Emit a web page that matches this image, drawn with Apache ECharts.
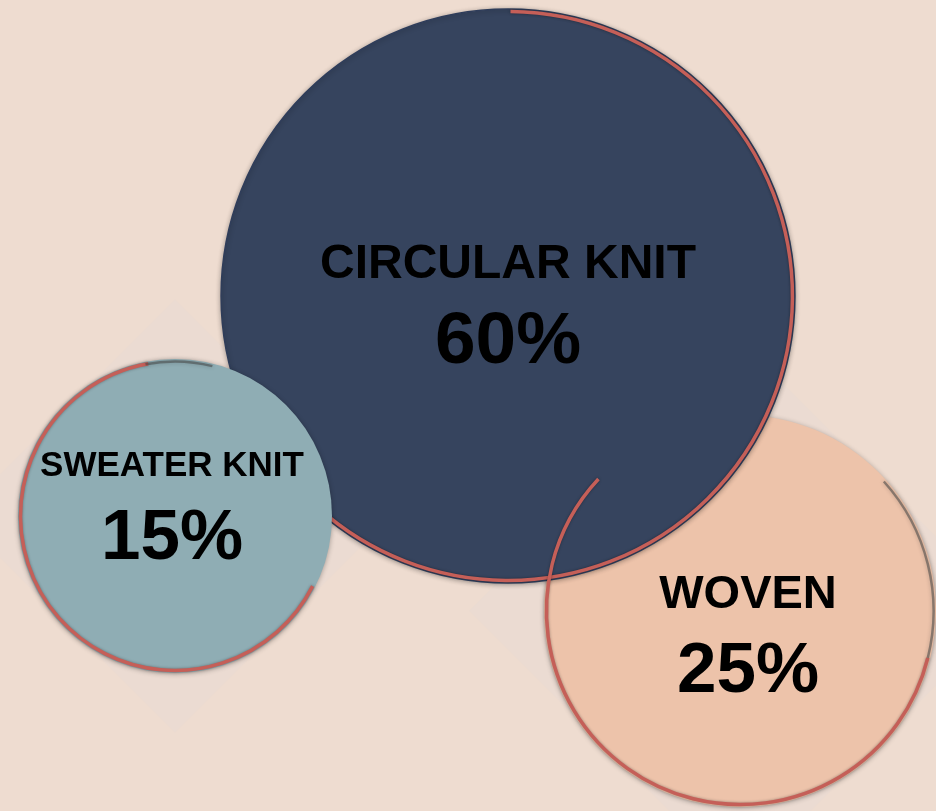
<!DOCTYPE html>
<html>
<head>
<meta charset="utf-8">
<script src="https://cdn.jsdelivr.net/npm/echarts@6/dist/echarts.min.js"></script>
<style>
html,body{margin:0;padding:0;background:#EEDCD0;}
#chart{width:936px;height:811px;}
</style>
</head>
<body>
<div id="chart"></div>
<script>
// ---- data ----
const categories = ['CIRCULAR KNIT', 'SWEATER KNIT', 'WOVEN'];
const shares = [60, 15, 25];            // percent
const bubbleX = [508, 175, 740];        // bubble chart x value
const bubbleY = [296, 516, 611];        // bubble chart y value

// ---- styling (not data) ----
const fills = ['#36445E', '#8FADB4', '#EDC3AA'];
const red = '#C55F58';
const fillZ = [2, 4, 1];
const arcZ = [3, 5, 3];
// red edge arcs (degrees, clockwise from 3 o'clock)
const arcs = [[-89.5, 132], [27, 260], [14, 223]];
const greyArcs = [null, [259, 284], [-42, 14]];
const diamonds = [false, true, true];
const labelLayout = [
  {dx: 0, nameDy: -31, pctDy: 47, nameSize: 48, pctSize: 73},
  {dx: -3, nameDy: -50, pctDy: 23, nameSize: 35, pctSize: 71},
  {dx: 8, nameDy: -16, pctDy: 61, nameSize: 47, pctSize: 71}
];
function diameter(v) { return 314 * Math.pow(v / 15, 0.435); }

const seriesData = categories.map((c, i) => [bubbleX[i], bubbleY[i], shares[i], c]);

const chart = echarts.init(document.getElementById('chart'));
const deg = Math.PI / 180;

chart.setOption({
  backgroundColor: '#EEDCD0',
  animation: false,
  grid: {left: 0, right: 0, top: 0, bottom: 0},
  xAxis: {type: 'value', min: 0, max: 936, show: false},
  yAxis: {type: 'value', min: 0, max: 811, inverse: true, show: false},
  series: [{
    type: 'custom',
    data: seriesData,
    renderItem: function (params, api) {
      const i = params.dataIndex;
      const c = api.coord([api.value(0), api.value(1)]);
      const d = api.size([diameter(api.value(2)), 0])[0];
      const r = d / 2;
      const L = labelLayout[i];
      const children = [];
      if (diamonds[i]) {
        const h = r * 1.38;
        children.push({
          type: 'polygon', z2: 0,
          shape: {points: [[c[0], c[1] - h], [c[0] + h, c[1]], [c[0], c[1] + h], [c[0] - h, c[1]]]},
          style: {fill: 'rgba(228,220,214,0.3)'}
        });
      }
      children.push({
        type: 'circle', z2: fillZ[i],
        shape: {cx: c[0], cy: c[1], r: r},
        style: {
          fill: fills[i],
          stroke: i === 0 ? '#2F3D5A' : fills[i],
          lineWidth: i === 0 ? 1.5 : 0,
          shadowBlur: 5, shadowColor: 'rgba(0,0,0,0.3)', shadowOffsetY: 1
        }
      });
      children.push({
        type: 'arc', z2: arcZ[i],
        shape: {cx: c[0], cy: c[1], r: r - 2.5, startAngle: arcs[i][0] * deg, endAngle: arcs[i][1] * deg, clockwise: true},
        style: {stroke: red, lineWidth: 3.5, fill: null, lineCap: 'butt', shadowBlur: 3, shadowColor: 'rgba(0,0,0,0.35)'}
      });
      if (greyArcs[i]) {
        children.push({
          type: 'arc', z2: arcZ[i],
          shape: {cx: c[0], cy: c[1], r: r - 2.5, startAngle: greyArcs[i][0] * deg, endAngle: greyArcs[i][1] * deg, clockwise: true},
          style: {stroke: 'rgba(70,70,70,0.55)', lineWidth: 2.5, fill: null, shadowBlur: 4, shadowColor: 'rgba(0,0,0,0.4)'}
        });
      }
      children.push({
        type: 'text', z2: 20,
        style: {
          text: api.value(3), x: c[0] + L.dx, y: c[1] + L.nameDy,
          fill: '#000', align: 'center', verticalAlign: 'middle',
          font: 'bold ' + L.nameSize + 'px "Liberation Sans", Arial, sans-serif'
        }
      });
      children.push({
        type: 'text', z2: 20,
        style: {
          text: api.value(2) + '%', x: c[0] + L.dx, y: c[1] + L.pctDy,
          fill: '#000', align: 'center', verticalAlign: 'middle',
          font: 'bold ' + L.pctSize + 'px "Liberation Sans", Arial, sans-serif'
        }
      });
      return {type: 'group', children: children};
    }
  }]
});
</script>
</body>
</html>
